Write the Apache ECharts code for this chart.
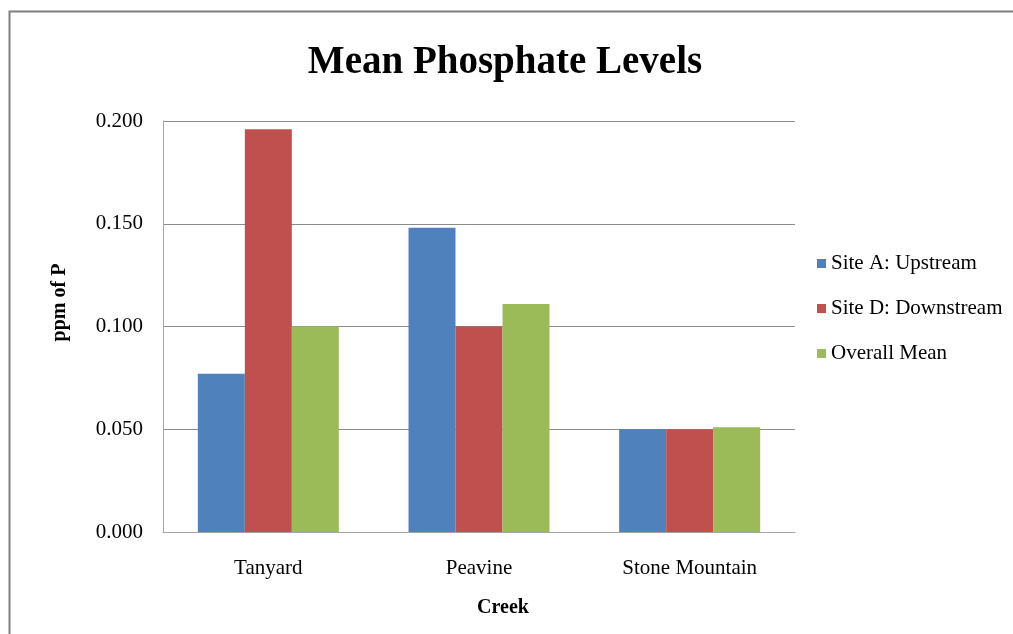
<!DOCTYPE html>
<html>
<head>
<meta charset="utf-8">
<script src="https://cdn.jsdelivr.net/npm/echarts@6/dist/echarts.min.js"></script>
<style>
html, body { margin: 0; padding: 0; background: #fff; }
#chart { width: 1013px; height: 634px; }
</style>
</head>
<body>
<div id="chart"></div>
<script>
// data
var categories = ['Tanyard', 'Peavine', 'Stone Mountain'];
var siteA = [0.077, 0.148, 0.050];
var siteD = [0.196, 0.100, 0.050];
var overall = [0.100, 0.111, 0.051];
var seriesNames = ['Site A: Upstream', 'Site D: Downstream', 'Overall Mean'];
var colors = ['#4F81BD', '#C0504D', '#9BBB59'];

var myChart = echarts.init(document.getElementById('chart'));
var font = '"Liberation Serif", "Times New Roman", serif';

var option = {
    animation: false,
    color: colors,
    title: {
        text: 'Mean Phosphate Levels',
        left: 500,
        top: 38,
        textAlign: 'center',
        textStyle: { fontFamily: font, fontSize: 39, fontWeight: 'bold', color: '#000' }
    },
    legend: {
        orient: 'vertical',
        left: 817,
        top: 253,
        padding: 0,
        itemWidth: 9,
        itemHeight: 9,
        itemGap: 24,
        icon: 'rect',
        textStyle: { fontFamily: font, fontSize: 21, color: '#000' },
        data: seriesNames
    },
    grid: { left: 163, top: 121, width: 632, height: 411 },
    xAxis: {
        type: 'category',
        data: categories,
        name: 'Creek',
        nameLocation: 'middle',
        nameGap: 66,
        nameTextStyle: { fontFamily: font, fontSize: 20, fontWeight: 'bold', color: '#000', padding: [0, 0, 0, 48] },
        axisLine: { lineStyle: { color: '#a6a6a6', width: 1 } },
        axisTick: { show: false },
        axisLabel: { fontFamily: font, fontSize: 21, color: '#000', margin: 26 }
    },
    yAxis: {
        type: 'value',
        min: 0,
        max: 0.2,
        interval: 0.05,
        name: 'ppm of P',
        nameLocation: 'middle',
        nameGap: 93,
        nameTextStyle: { fontFamily: font, fontSize: 20, fontWeight: 'bold', color: '#000', padding: [0, 0, 0, 48] },
        axisLine: { show: true, lineStyle: { color: '#a6a6a6', width: 1 } },
        axisTick: { show: false },
        splitLine: { lineStyle: { color: '#8c8c8c', width: 1 } },
        axisLabel: {
            fontFamily: font, fontSize: 21, color: '#000', margin: 20,
            formatter: function (v) { return v.toFixed(3); }
        }
    },
    graphic: [{
        type: 'rect',
        shape: { x: 9.5, y: 11.5, width: 1100, height: 700 },
        style: { fill: 'none', stroke: '#808080', lineWidth: 2 },
        silent: true
    }],
    series: [
        { name: seriesNames[0], type: 'bar', data: siteA, barWidth: 47, barGap: '0%' },
        { name: seriesNames[1], type: 'bar', data: siteD, barWidth: 47, barGap: '0%' },
        { name: seriesNames[2], type: 'bar', data: overall, barWidth: 47, barGap: '0%' }
    ]
};

myChart.setOption(option);
</script>
</body>
</html>
